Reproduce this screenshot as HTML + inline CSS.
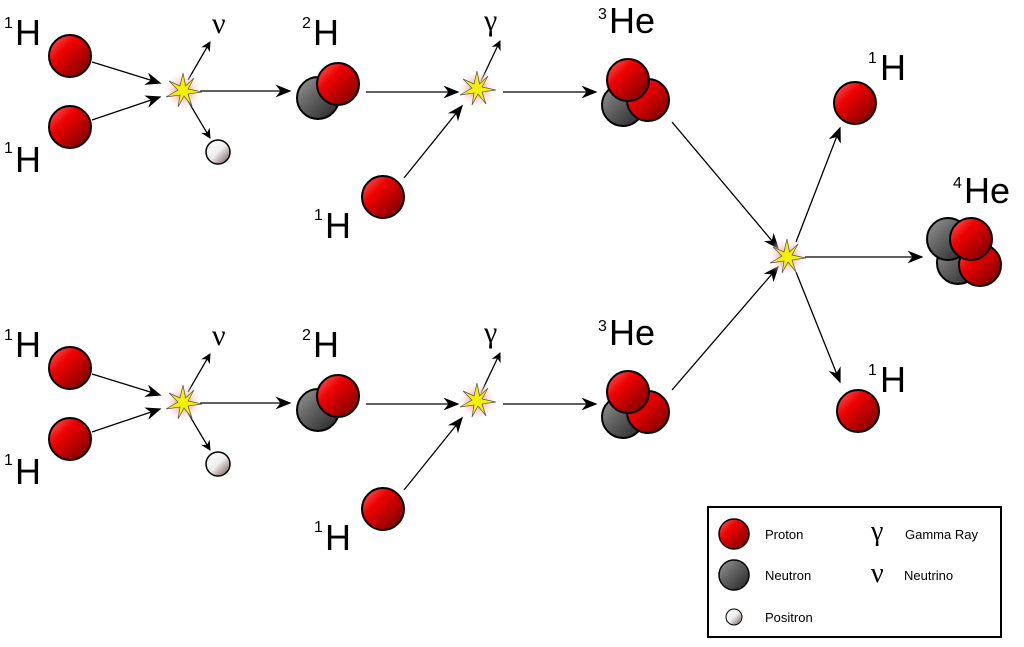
<!DOCTYPE html>
<html><head><meta charset="utf-8"><style>html,body{margin:0;padding:0;background:#fff}svg{display:block}text{font-family:"Liberation Sans",sans-serif;fill:#000}text.s{font-family:"Liberation Serif",serif}</style></head><body>
<svg width="1024" height="647" viewBox="0 0 1024 647" xmlns="http://www.w3.org/2000/svg">
<defs>
<linearGradient id="pr" x1="0" y1="0" x2="1" y2="1"><stop offset="0" stop-color="#ff6a6a"/><stop offset="0.35" stop-color="#ee0000"/><stop offset="1" stop-color="#6a0000"/></linearGradient>
<linearGradient id="ne" x1="0" y1="0" x2="1" y2="1"><stop offset="0" stop-color="#9a9a9a"/><stop offset="0.4" stop-color="#666"/><stop offset="1" stop-color="#222"/></linearGradient>
<linearGradient id="po" x1="0" y1="0" x2="1" y2="1"><stop offset="0" stop-color="#fff"/><stop offset="0.5" stop-color="#eee"/><stop offset="1" stop-color="#6a4a4a"/></linearGradient>
<radialGradient id="gl"><stop offset="0.3" stop-color="#f6b0b0"/><stop offset="1" stop-color="#fff" stop-opacity="0"/></radialGradient>
<marker id="a" viewBox="0 0 10 10" refX="9" refY="5" markerWidth="10" markerHeight="10" markerUnits="userSpaceOnUse" orient="auto"><path d="M0,0 L10,5 L0,10 L3,5z" fill="#000"/></marker>
<marker id="b" viewBox="0 0 10 10" refX="9" refY="5" markerWidth="16" markerHeight="16" markerUnits="userSpaceOnUse" orient="auto"><path d="M0,1 L10,5 L0,9 L3,5z" fill="#000"/></marker>
<g id="star"><circle r="20" fill="url(#gl)"/><path d="M0,-18 L2.5,-5 L11,-13 L5,-2 L19,1 L5,3 L9,15 L1,5 L-5,16 L-3,4 L-17,6 L-5,-1 L-14,-10 L-3,-5z" fill="#f2f200" stroke="#555" stroke-width="0.7"/></g>
<circle id="p" r="21" fill="url(#pr)" stroke="#000" stroke-width="2"/>
<circle id="n" r="21" fill="url(#ne)" stroke="#000" stroke-width="2"/>
</defs>
<g fill="none" stroke="#000" stroke-width="1.3">
<g id="row">
<line x1="92" y1="62" x2="160" y2="83" marker-end="url(#b)"/>
<line x1="92" y1="120" x2="160" y2="97" marker-end="url(#b)"/>
<line x1="188" y1="80" x2="210" y2="42" marker-end="url(#a)"/>
<line x1="188" y1="101" x2="210" y2="138" marker-end="url(#a)"/>
<line x1="200" y1="91" x2="290" y2="91" marker-end="url(#b)"/>
<line x1="366" y1="92" x2="458" y2="92" marker-end="url(#b)"/>
<line x1="481" y1="81" x2="500" y2="41" marker-end="url(#a)"/>
<line x1="404" y1="178" x2="462" y2="106" marker-end="url(#b)"/>
<line x1="503" y1="92" x2="596" y2="92" marker-end="url(#b)"/>
</g>
<use href="#row" y="312"/>
<line x1="672" y1="122" x2="778" y2="248" marker-end="url(#b)"/>
<line x1="672" y1="390" x2="778" y2="267" marker-end="url(#b)"/>
<line x1="796" y1="242" x2="840" y2="128" marker-end="url(#b)"/>
<line x1="796" y1="272" x2="840" y2="382" marker-end="url(#b)"/>
<line x1="805" y1="257" x2="922" y2="257" marker-end="url(#b)"/>
</g>
<g id="row2">
<use href="#star" x="183" y="91"/>
<use href="#star" x="477" y="89"/>
<use href="#p" x="70" y="56"/>
<use href="#p" x="70" y="127"/>
<circle cx="218" cy="152" r="12" fill="url(#po)" stroke="#000" stroke-width="1.5"/>
<use href="#n" x="318" y="98"/>
<use href="#p" x="338" y="84"/>
<use href="#p" x="383" y="197"/>
<use href="#n" x="623" y="105"/>
<use href="#p" x="648" y="100"/>
<use href="#p" x="628" y="80"/>
<text x="4" y="28" font-size="16">1</text><text x="15" y="45" font-size="36">H</text>
<text x="4" y="153" font-size="16">1</text><text x="15" y="172" font-size="36">H</text>
<text x="212" y="33" font-size="30" class="s">ν</text>
<text x="302" y="28" font-size="16">2</text><text x="313" y="45" font-size="36">H</text>
<text x="484" y="30" font-size="30" class="s">γ</text>
<text x="314" y="220" font-size="16">1</text><text x="325" y="238" font-size="36">H</text>
<text x="598" y="19" font-size="16">3</text><text x="609" y="33" font-size="36">He</text>
</g>
<use href="#row2" y="312"/>
<use href="#star" x="787" y="257"/>
<use href="#p" x="855" y="103"/>
<use href="#p" x="858" y="411"/>
<use href="#n" x="958" y="263"/>
<use href="#n" x="948" y="239"/>
<use href="#p" x="980" y="265"/>
<use href="#p" x="971" y="239"/>
<text x="868" y="63" font-size="16">1</text><text x="880" y="80" font-size="36">H</text>
<text x="868" y="375" font-size="16">1</text><text x="880" y="392" font-size="36">H</text>
<text x="953" y="188" font-size="16">4</text><text x="964" y="203" font-size="36">He</text>
<rect x="708" y="507" width="293" height="130" fill="none" stroke="#000" stroke-width="2"/>
<circle cx="734" cy="534" r="15" fill="url(#pr)" stroke="#000" stroke-width="1.5"/>
<circle cx="734" cy="575" r="15" fill="url(#ne)" stroke="#000" stroke-width="1.5"/>
<circle cx="734" cy="617" r="8" fill="url(#po)" stroke="#000" stroke-width="1"/>
<text x="765" y="539" font-size="13">Proton</text>
<text x="765" y="580" font-size="13">Neutron</text>
<text x="765" y="622" font-size="13">Positron</text>
<text x="871" y="540" font-size="28" class="s">γ</text>
<text x="871" y="582" font-size="28" class="s">ν</text>
<text x="905" y="539" font-size="13">Gamma Ray</text>
<text x="904" y="580" font-size="13">Neutrino</text>
</svg>
</body></html>
